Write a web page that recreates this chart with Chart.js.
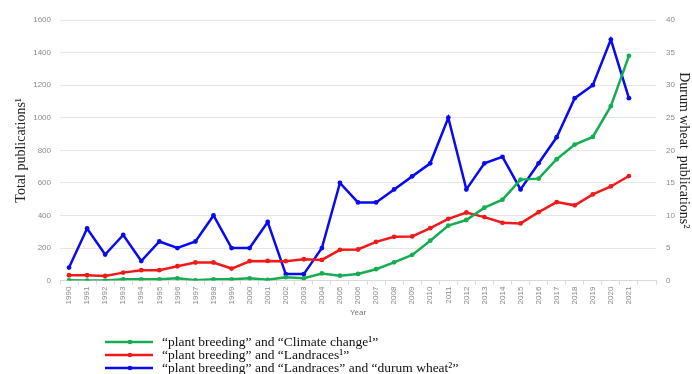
<!DOCTYPE html>
<html>
<head>
<meta charset="utf-8">
<script src="https://cdn.jsdelivr.net/npm/chart.js@4.4.1/dist/chart.umd.min.js"></script>
<style>
  html, body { margin: 0; padding: 0; background: #ffffff; }
  #wrap { width: 692px; height: 374px; position: relative; }
</style>
</head>
<body>
<div id="wrap"><canvas id="c" width="692" height="374"></canvas></div>
<script>
// Publication years (one trailing empty slot keeps the axis running past 2021)
const years = [1990,1991,1992,1993,1994,1995,1996,1997,1998,1999,2000,2001,2002,2003,2004,2005,
  2006,2007,2008,2009,2010,2011,2012,2013,2014,2015,2016,2017,2018,2019,2020,2021];
const categories = years.map(String).concat(['']);

// "plant breeding" and "Climate change" (left axis)
const climateChange = [2,0,0,8,8,8,14,2,8,8,14,5,21,14,44,30,41,70,112,158,245,338,372,448,497,620,626,745,835,882,1071,1380];
// "plant breeding" and "Landraces" (left axis)
const landraces = [33,33,29,49,64,64,88,111,111,74,119,121,119,131,127,189,191,238,269,271,322,379,418,390,355,351,420,482,462,529,578,642];
// "plant breeding" and "Landraces" and "durum wheat" (right axis)
const durumWheat = [2,8,4,7,3,6,5,6,10,5,5,9,1,1,5,15,12,12,14,16,18,25,14,18,19,14,18,22,28,30,37,28];

const seriesLabels = [
  '\u201Cplant breeding\u201D and \u201CClimate change\u00B9\u201D',
  '\u201Cplant breeding\u201D and \u201CLandraces\u00B9\u201D',
  '\u201Cplant breeding\u201D and \u201CLandraces\u201D and \u201Cdurum wheat\u00B2\u201D'
];
const seriesColors = ['#16ac52', '#f01a1a', '#0a0af0'];

const tickFont = { family: 'Liberation Sans', size: 8 };
const tickColor = '#8a8a8a';

// Legend drawn under the plot: short line with a dot, then the label
const bottomLegend = {
  id: 'bottomLegend',
  afterDraw(chart) {
    const ctx = chart.ctx;
    const rows = [342, 355, 368];
    ctx.save();
    chart.data.datasets.forEach((ds, i) => {
      const y = rows[i];
      ctx.strokeStyle = ds.borderColor;
      ctx.lineWidth = 2.5;
      ctx.beginPath();
      ctx.moveTo(105, y);
      ctx.lineTo(153, y);
      ctx.stroke();
      ctx.fillStyle = ds.borderColor;
      ctx.beginPath();
      ctx.arc(130, y, 2.3, 0, Math.PI * 2);
      ctx.fill();
      ctx.fillStyle = '#111';
      ctx.font = '13.5px "Liberation Serif"';
      ctx.textBaseline = 'middle';
      ctx.textAlign = 'left';
      ctx.fillText(ds.label, 162, y);
    });
    ctx.restore();
  }
};

// White page background
const whiteBg = {
  id: 'whiteBg',
  beforeDraw(chart) {
    const ctx = chart.ctx;
    ctx.save();
    ctx.fillStyle = '#ffffff';
    ctx.fillRect(0, 0, chart.width, chart.height);
    ctx.restore();
  }
};

function lineSet(label, data, color, axis) {
  return {
    label, data, yAxisID: axis,
    borderColor: color, backgroundColor: color,
    borderWidth: 2.5, pointRadius: 2.4, pointHoverRadius: 2.4,
    pointBorderWidth: 0, tension: 0, fill: false
  };
}

new Chart(document.getElementById('c'), {
  type: 'line',
  data: {
    labels: categories,
    datasets: [
      lineSet(seriesLabels[0], climateChange, seriesColors[0], 'yLeft'),
      lineSet(seriesLabels[1], landraces, seriesColors[1], 'yLeft'),
      lineSet(seriesLabels[2], durumWheat, seriesColors[2], 'yRight')
    ]
  },
  options: {
    responsive: false,
    animation: false,
    layout: { padding: { left: 13, right: 0, top: 20, bottom: 56 } },
    plugins: { legend: { display: false }, tooltip: { enabled: false } },
    scales: {
      x: {
        offset: true,
        grid: { display: true, drawOnChartArea: false, drawTicks: true, tickLength: 4, color: '#d9d9d9', offset: true },
        border: { display: true, color: '#d9d9d9' },
        ticks: { font: tickFont, color: tickColor, minRotation: 90, maxRotation: 90, autoSkip: false, padding: 2 },
        title: { display: true, text: 'Year', font: { family: 'Liberation Sans', size: 8 }, color: '#777', padding: { top: 2, bottom: 0 } }
      },
      yLeft: {
        position: 'left', min: 0, max: 1600,
        afterFit: s => { s.width = 47; },
        ticks: { stepSize: 200, font: tickFont, color: tickColor, padding: 9, callback: v => String(v) },
        grid: { color: '#e6e6e6', drawTicks: false },
        border: { display: false },
        title: { display: true, text: 'Total publications\u00B9', font: { family: 'Liberation Serif', size: 14 }, color: '#222', padding: { top: 0, bottom: 0 } }
      },
      yRight: {
        position: 'right', min: 0, max: 40,
        afterFit: s => { s.width = 36; },
        ticks: { stepSize: 5, font: tickFont, color: tickColor, padding: 10, callback: v => String(v) },
        grid: { display: false, drawTicks: false },
        border: { display: false },
        title: { display: true, text: 'Durum wheat  publications\u00B2', font: { family: 'Liberation Serif', size: 14 }, color: '#222', padding: { top: 0, bottom: 0 } }
      }
    }
  },
  plugins: [whiteBg, bottomLegend]
});
</script>
</body>
</html>
